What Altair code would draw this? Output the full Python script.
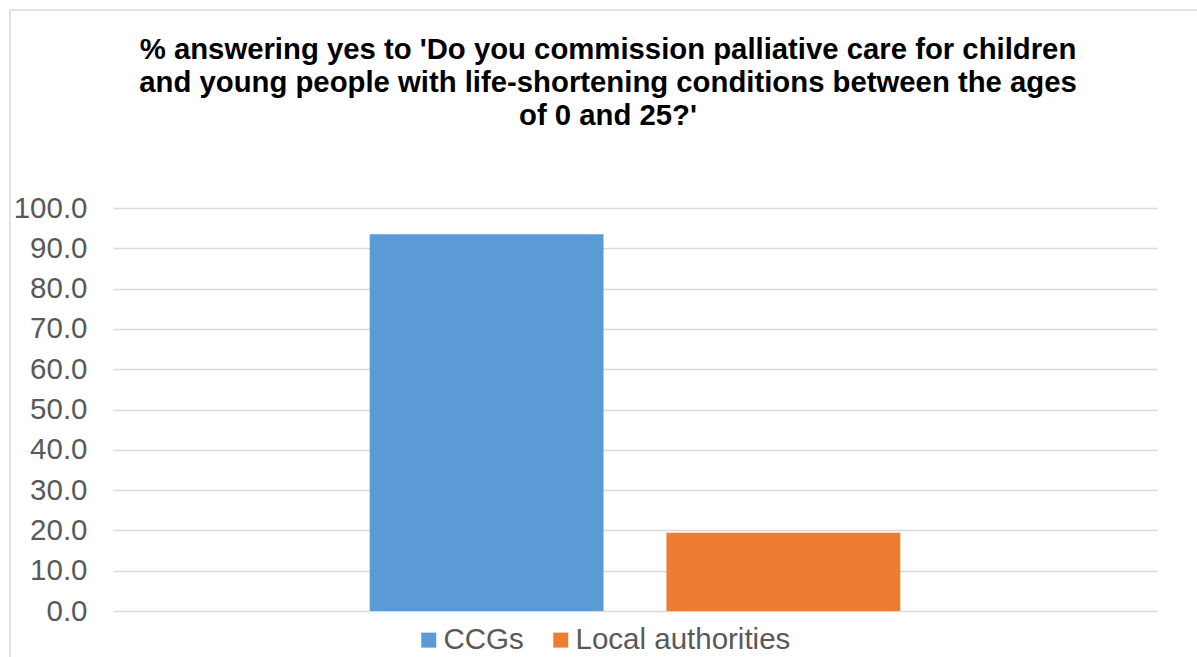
import altair as alt
import pandas as pd

series = ["CCGs", "Local authorities"]
values = [93.5, 19.4]
colors = ["#5B9BD5", "#ED7D31"]
y_ticks = [0, 10, 20, 30, 40, 50, 60, 70, 80, 90, 100]
title_lines = [
    "% answering yes to 'Do you commission palliative care for children",
    "and young people with life-shortening conditions between the ages",
    "of 0 and 25?'",
]

df = pd.DataFrame({"series": series, "value": values})

W, H = 1044, 403

frame = alt.Chart(pd.DataFrame({"a": [0]})).mark_rect(
    fill=None, stroke="#d9d9d9", strokeWidth=1.5
).encode(
    x=alt.value(-103), x2=alt.value(W + 200),
    y=alt.value(-198), y2=alt.value(H + 200),
)

bars = alt.Chart(df).mark_bar().encode(
    x=alt.X("series:N", sort=series, axis=None,
            scale=alt.Scale(paddingInner=0.212, paddingOuter=0.865)),
    y=alt.Y("value:Q",
            scale=alt.Scale(domain=[0, 100], nice=False),
            axis=alt.Axis(values=y_ticks, format=".1f", title=None,
                          domain=False, ticks=False, labelPadding=26,
                          labelFontSize=29.5, labelColor="#595959",
                          labelFont="Liberation Sans",
                          gridColor="#d9d9d9", gridWidth=1.5)),
    color=alt.Color("series:N", sort=series,
                    scale=alt.Scale(domain=series, range=colors),
                    legend=alt.Legend(title=None, orient="none",
                                      direction="horizontal",
                                      legendX=301, legendY=417,
                                      symbolType="square", symbolSize=225,
                                      symbolStrokeWidth=0,
                                      labelFontSize=29.5, labelColor="#595959",
                                      labelFont="Liberation Sans",
                                      labelLimit=0,
                                      columnPadding=22, labelOffset=0)),
)

chart = alt.layer(bars, frame).properties(
    width=W, height=H,
    autosize=alt.AutoSizeParams(type="none"),
    padding={"left": 113, "top": 208, "right": 40, "bottom": 46},
    view=alt.ViewBackground(stroke="transparent", strokeWidth=0),
    title=alt.TitleParams(
        text=title_lines, anchor="middle", dx=-27, offset=-122,
        font="Liberation Sans", fontSize=29.3, fontWeight="bold",
        color="#000000", lineHeight=33,
    ),
).configure_view(stroke="transparent", strokeWidth=0).configure(background="white")

chart.save("out.html", embed_options={"renderer": "svg", "actions": False})
